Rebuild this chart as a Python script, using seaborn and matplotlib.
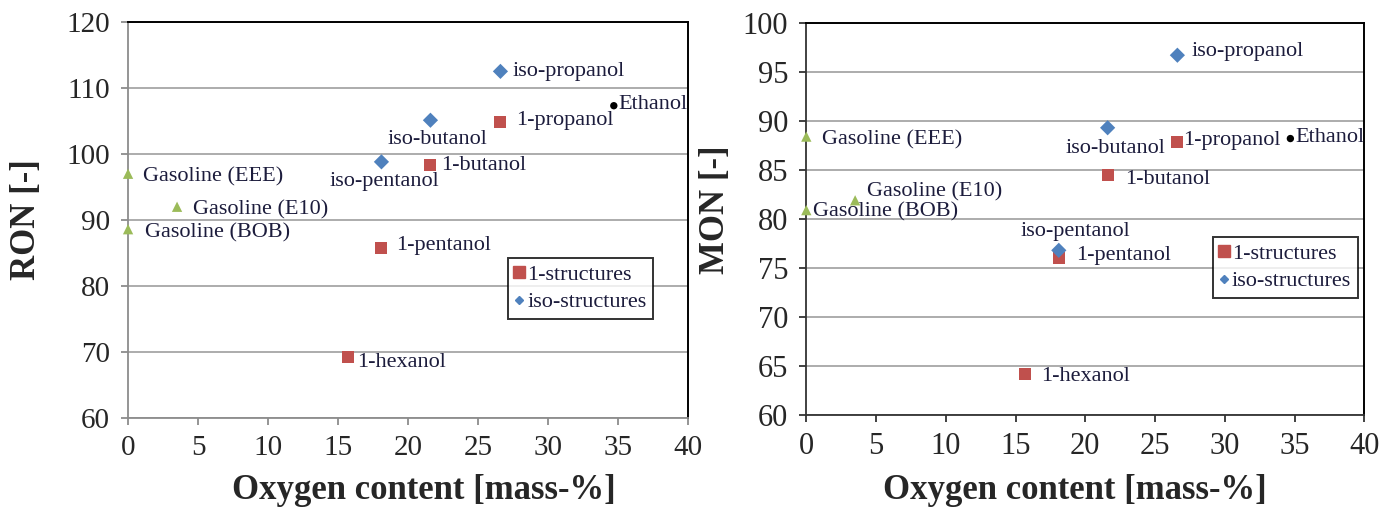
import matplotlib
matplotlib.use("Agg")
import matplotlib.pyplot as plt
from matplotlib.lines import Line2D
import seaborn as sns
import pandas as pd

# compounds and oxygen content [mass-%]
names = ["Gasoline (EEE)", "Gasoline (E10)", "Gasoline (BOB)", "Ethanol",
         "1-propanol", "iso-propanol", "1-butanol", "iso-butanol",
         "1-pentanol", "iso-pentanol", "1-hexanol"]
groups = ["gasoline", "gasoline", "gasoline", "ethanol",
          "1-structures", "iso-structures", "1-structures", "iso-structures",
          "1-structures", "iso-structures", "1-structures"]
oxygen = [0.0, 3.5, 0.0, 34.7, 26.6, 26.6, 21.6, 21.6, 18.1, 18.1, 15.7]
ron = [97.0, 92.0, 88.6, 107.3, 104.9, 112.5, 98.3, 105.1, 85.8, 98.8, 69.3]
mon = [88.4, 81.9, 80.9, 88.2, 87.8, 96.7, 84.5, 89.3, 76.0, 76.8, 64.2]

# label offsets in pixels (dx, dy, ha)
ron_off = [(15, -3, "left"), (16, -3, "left"), (17, -4, "left"), (5, 1, "left"),
           (16, 1, "left"), (12, 0, "left"), (11, 0, "left"), (7, -19, "center"),
           (15, 2, "left"), (3, -20, "center"), (9, -6, "left")]
mon_off = [(16, -3, "left"), (12, 8, "left"), (7, -2, "left"), (5, 1, "left"),
           (6, 2, "left"), (14, 4, "left"), (17, -5, "left"), (8, -21, "center"),
           (17, 3, "left"), (17, 19, "center"), (16, -3, "left")]

df = pd.DataFrame({"name": names, "group": groups, "oxygen": oxygen,
                   "RON": ron, "MON": mon})

sns.set_style("white")
plt.rcParams["font.family"] = ["Liberation Serif", "DejaVu Serif"]

palette = {"1-structures": "#c0504d", "iso-structures": "#4f81bd",
           "gasoline": "#9bbb59", "ethanol": "#000000"}
markers = {"1-structures": "s", "iso-structures": "D",
           "gasoline": "^", "ethanol": "o"}
sizes = {"1-structures": 75, "iso-structures": 60, "gasoline": 55, "ethanol": 28}

fig = plt.figure(figsize=(13.95, 5.08), dpi=100)
ax1 = fig.add_axes([0.0918, 0.177, 0.4014, 0.780])
ax2 = fig.add_axes([0.578, 0.183, 0.400, 0.772])

txtcol = "#1c1c3c"

def panel(ax, col, offs, ylim, ystep, ylabel, leg_anchor, xlab, ylab,
          axcol, ticksize):
    for g in ["gasoline", "ethanol", "1-structures", "iso-structures"]:
        sub = df[df.group == g]
        sns.scatterplot(data=sub, x="oxygen", y=col, ax=ax, color=palette[g],
                        marker=markers[g], s=sizes[g], edgecolor="none",
                        legend=False, zorder=3, clip_on=False)
    for i, row in df.iterrows():
        dx, dy, ha = offs[i]
        ax.annotate(row["name"], (row["oxygen"], row[col]), xytext=(dx, dy),
                    textcoords="offset pixels", ha=ha, va="center",
                    fontsize=16, color=txtcol, zorder=4)
    ax.set_xlim(0, 40)
    ax.set_ylim(*ylim)
    ax.set_xticks(range(0, 41, 5))
    ax.set_yticks(range(ylim[0], ylim[1] + 1, ystep))
    ax.yaxis.grid(True, color="#a6a6a6", lw=1.3)
    ax.set_axisbelow(True)
    ax.tick_params(axis="both", length=5, width=1.3, color=axcol,
                   labelsize=ticksize, direction="out", bottom=True, left=True)
    ax.tick_params(axis="x", pad=7)
    ax.tick_params(axis="y", pad=8)
    for s in ["left", "bottom"]:
        ax.spines[s].set_color(axcol)
        ax.spines[s].set_linewidth(1.3)
    for s in ["top", "right"]:
        ax.spines[s].set_color("black")
        ax.spines[s].set_linewidth(1.4)
    ax.set_xlabel("Oxygen content [mass-%]", fontsize=25, fontweight="bold")
    ax.set_ylabel(ylabel, fontsize=25, fontweight="bold")
    ax.xaxis.set_label_coords(*xlab)
    ax.yaxis.set_label_coords(*ylab)
    handles = [Line2D([], [], ls="none", marker="s", color=palette["1-structures"],
                      markersize=8, label="1-structures"),
               Line2D([], [], ls="none", marker="D", color=palette["iso-structures"],
                      markersize=4.5, label="iso-structures")]
    leg = ax.legend(handles=handles, loc="upper left", bbox_to_anchor=leg_anchor,
                    frameon=True, fancybox=False, handlelength=0.4,
                    handletextpad=0.15, borderpad=0.3, labelspacing=0.3,
                    fontsize=16, borderaxespad=0)
    leg.get_frame().set_edgecolor("black")
    leg.get_frame().set_linewidth(1.4)
    for t in leg.get_texts():
        t.set_color(txtcol)

panel(ax1, "RON", ron_off, (60, 120), 10, "RON [-]", (0.679, 0.404),
      (0.529, -0.142), (-0.152, 0.5), "#8c8c8c", 21)
panel(ax2, "MON", mon_off, (60, 100), 5, "MON [-]", (0.729, 0.454),
      (0.482, -0.15), (-0.133, 0.523), "#333333", 22)

fig.savefig("out.png", dpi=100)
